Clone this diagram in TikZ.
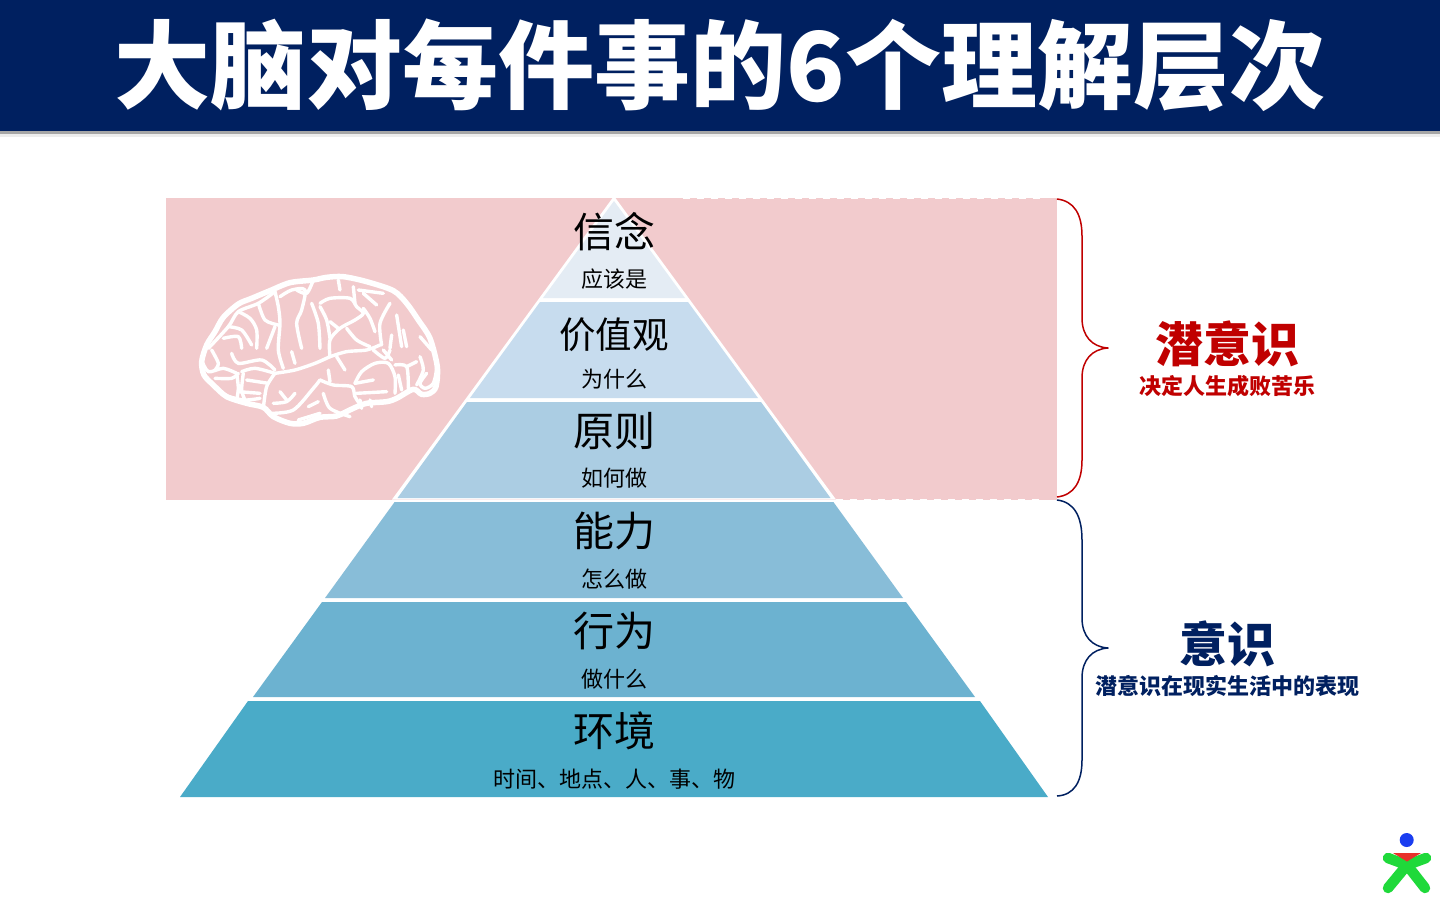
\documentclass[tikz,border=0pt]{standalone}
\usepackage{fontspec}
\setmainfont{Noto Sans CJK SC}
\definecolor{navy}{HTML}{002060}
\definecolor{pinkbg}{HTML}{F2CBCD}
\definecolor{lay1}{HTML}{E4ECF4}
\definecolor{lay2}{HTML}{C7DCEE}
\definecolor{lay3}{HTML}{ABCDE3}
\definecolor{lay4}{HTML}{88BDD8}
\definecolor{lay5}{HTML}{6CB2D0}
\definecolor{lay6}{HTML}{4AABC8}
\definecolor{bracered}{HTML}{C00000}
\definecolor{logogreen}{HTML}{1FD93A}
\definecolor{logoblue}{HTML}{1A3DF0}
\definecolor{logored}{HTML}{E8302A}
\tikzset{
 px/.style={x=1pt,y=-1pt},
 bigt/.style={inner sep=0pt,font=\fontsize{41}{41}\selectfont,text=black},
 midt/.style={inner sep=0pt,font=\fontsize{36.5}{37}\selectfont,text=black},
 smallt/.style={inner sep=0pt,font=\fontsize{22}{22}\selectfont,text=black},
 brainline/.style={draw=white,line width=5.5pt,line cap=round,line join=round},
 sulcus/.style={draw=white,line width=3.4pt,line cap=round,line join=round},
 bracestroke/.style={line width=1.5pt,line join=round,fill=none},
 sidebig/.style={inner sep=0pt,font=\fontsize{48}{48}\selectfont\bfseries},
 sidesmall/.style={inner sep=0pt,font=\fontsize{22}{22}\selectfont\bfseries},
 logolimb/.style={draw=logogreen,line width=10.5pt,line cap=round}
}
\newcommand{\sul}[1]{\draw[sulcus] plot[smooth,tension=0.5] coordinates {#1};}
\begin{document}
\begin{tikzpicture}[px]
\useasboundingbox (0,0) rectangle (1440,900);
\fill[white] (0,0) rectangle (1440,900);
% title band with shadow
\fill[black!7] (0,131) rectangle (1440,137);
\fill[black!35] (0,131) rectangle (1440,134);
\fill[navy] (0,0) rectangle (1440,131);
\node[inner sep=0pt,text=white,font=\fontsize{96}{96}\selectfont\bfseries] (title) at (720,65) {大脑对每件事的6个理解层次};
% pink background
\fill[pinkbg] (166,198) rectangle (1057,499.5);
\draw[white,line width=1.2pt,dash pattern=on 7pt off 7pt] (683,198) -- (1040,198);
\draw[white,line width=1.2pt,dash pattern=on 7pt off 7pt] (836,499.5) -- (1040,499.5);
% pyramid
\fill[white] (614,196) -- (392,499.5) -- (836,499.5) -- cycle;
\fill[lay1] (614,201) -- (543,298) -- (685,298) -- cycle;
\fill[lay2] (540,302) -- (470,398) -- (758,398) -- (688,302) -- cycle;
\fill[lay3] (467,402) -- (397.5,498) -- (830.5,498) -- (761,402) -- cycle;
\fill[lay4] (394.6,502) -- (325,598) -- (903,598) -- (833.4,502) -- cycle;
\fill[lay5] (322,602) -- (253,697) -- (975,697) -- (906,602) -- cycle;
\fill[lay6] (248,701) -- (180,797) -- (1048,797) -- (980,701) -- cycle;
% pyramid labels
\node[bigt] (t1) at (614,232) {信念};
\node[smallt] (s1) at (614,279.5) {应该是};
\node[midt] (t2) at (614,335) {价值观};
\node[smallt] (s2) at (614,379.5) {为什么};
\node[bigt] (t3) at (614,431) {原则};
\node[smallt] (s3) at (614,478.5) {如何做};
\node[bigt] (t4) at (614,531) {能力};
\node[smallt] (s4) at (614,579.5) {怎么做};
\node[bigt] (t5) at (614,631) {行为};
\node[smallt] (s5) at (614,679.5) {做什么};
\node[bigt] (t6) at (614,731) {环境};
\node[smallt] (s6) at (614,779.5) {时间、地点、人、事、物};
% braces
\path[draw=bracered,bracestroke] (1057,199) .. controls (1074,201) and (1082,214) .. (1082,236) -- (1082,318)
  .. controls (1082,336) and (1092,347) .. (1108,348) .. controls (1092,349) and (1082,360) .. (1082,378) -- (1082,460)
  .. controls (1082,482) and (1074,495) .. (1057,497);
\path[draw=navy,bracestroke] (1057,500) .. controls (1074,502) and (1082,516) .. (1082,540) -- (1082,618)
  .. controls (1082,636) and (1092,647) .. (1108,648) .. controls (1092,649) and (1082,660) .. (1082,678) -- (1082,760)
  .. controls (1082,782) and (1074,795) .. (1057,796);
\node[sidebig,text=bracered] (sub) at (1227,344) {潜意识};
\node[sidesmall,text=bracered] (subs) at (1227,386.5) {决定人生成败苦乐};
\node[sidebig,text=navy] (con) at (1227,644) {意识};
\node[sidesmall,text=navy] (cons) at (1227,686) {潜意识在现实生活中的表现};
% brain (coordinates of a 3x crop at 180,260)
\begin{scope}[shift={(180,260)},x=0.3333pt,y=-0.3333pt]
\draw[brainline] plot[smooth cycle,tension=0.5] coordinates {(65,305) (80,255) (105,215) (130,172) (175,132) (215,115) (270,92) (330,68) (400,60) (440,52) (490,50) (560,65) (640,92) (680,130) (715,180) (750,235) (772,320) (768,380) (750,400) (725,403) (700,388) (650,415) (620,425) (560,430) (520,445) (470,468) (420,472) (370,490) (330,490) (280,470) (250,442) (200,430) (140,410) (100,375) (72,345)};
% lower left
\sul{(65,300) (85,335) (130,325) (170,340)}
\sul{(170,340) (175,385) (170,420)}
\sul{(105,355) (155,355) (175,340)}
\sul{(185,335) (225,325) (285,340)}
\sul{(285,340) (260,380) (250,445)}
\sul{(285,340) (345,330) (405,310) (450,290)}
\sul{(200,360) (265,370)}
\sul{(190,340) (185,390) (195,420)}
\sul{(175,395) (240,400)}
\sul{(130,405) (190,420) (240,415)}
\sul{(280,430) (320,425) (345,400)}
\sul{(300,395) (320,420)}
\sul{(385,440) (415,425)}
\sul{(355,480) (420,460)}
\sul{(95,270) (115,310) (105,330)}
\sul{(155,280) (175,310) (245,300) (285,330)}
\sul{(335,275) (345,310)}
% lower right
\sul{(420,360) (460,375) (515,380) (525,410) (545,440)}
\sul{(270,460) (340,450) (400,385) (420,360)}
\sul{(525,370) (545,335) (585,310) (625,310) (645,350) (645,400)}
\sul{(525,370) (580,360)}
\sul{(530,400) (620,395)}
\sul{(540,420) (545,445)}
\sul{(570,420) (575,440)}
\sul{(445,330) (450,365)}
\sul{(470,290) (495,330)}
\sul{(430,400) (450,445) (510,470)}
\sul{(645,315) (680,320) (685,385)}
\sul{(655,345) (665,390)}
\sul{(680,320) (710,305)}
\sul{(760,270) (770,320) (760,370) (735,385) (720,370) (740,340)}
\sul{(720,290) (730,330) (710,375)}
\sul{(610,270) (635,300)}
\sul{(580,270) (615,295) (630,270)}
\sul{(450,290) (500,275) (560,270) (600,255)}
% upper right
\sul{(420,130) (450,115) (510,115) (530,140) (550,160) (525,180) (480,205) (450,240) (450,290)}
\sul{(520,80) (525,130)}
\sul{(535,90) (610,100)}
\sul{(550,100) (590,135)}
\sul{(550,145) (570,175) (585,215)}
\sul{(630,130) (600,190) (605,255)}
\sul{(650,165) (665,260)}
\sul{(635,225) (630,265)}
\sul{(670,210) (680,260)}
\sul{(720,230) (755,270)}
\sul{(420,140) (440,180) (450,235)}
\sul{(450,185) (475,205)}
\sul{(475,60) (480,90)}
\sul{(500,205) (530,240) (570,260)}
% upper left
\sul{(85,265) (145,200) (175,155) (235,130) (285,95)}
\sul{(175,155) (210,175) (230,210) (230,265)}
\sul{(235,130) (255,180) (295,195)}
\sul{(285,95) (295,140) (300,190) (295,270) (310,325)}
\sul{(300,110) (335,90) (375,90) (365,150) (350,190) (365,265)}
\sul{(395,130) (415,190) (420,265)}
\sul{(145,200) (185,210) (215,255)}
\sul{(130,235) (175,230) (185,265)}
\sul{(285,200) (260,265)}
\sul{(400,60) (380,100) (350,90)}
\end{scope}
% logo
\coordinate (hub) at (1407,865);
\draw[logolimb] (1388,858) -- (hub);
\draw[logolimb] (1426,858) -- (hub);
\draw[logolimb] (1388,888) -- (hub);
\draw[logolimb] (1425,888) -- (hub);
\fill[logored] (1393,853) -- (1421,853) -- (1407,861.5) -- cycle;
\fill[logoblue] (1406.7,840) circle[radius=7];
\end{tikzpicture}
\end{document}
